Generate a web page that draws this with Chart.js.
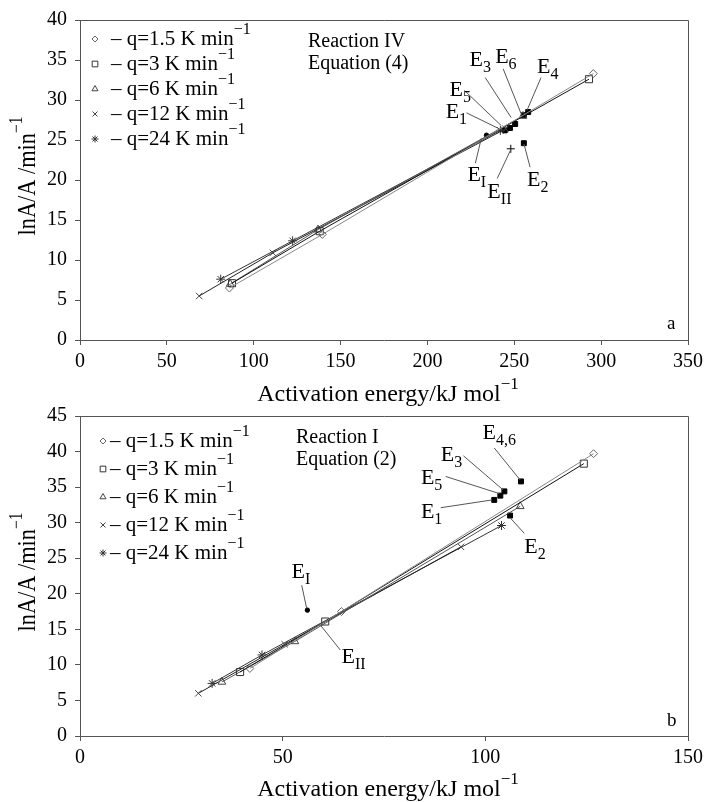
<!DOCTYPE html>
<html>
<head>
<meta charset="utf-8">
<script src="https://cdn.jsdelivr.net/npm/chart.js@4.4.1/dist/chart.umd.min.js"></script>
<style>
    html, body { margin: 0; padding: 0; background: #fff; }
    #wrap { position: relative; width: 708px; height: 802px; }
    canvas { position: absolute; left: 0; }
</style>
</head>
<body>
<div id="wrap">
    <canvas id="chartA" width="708" height="412" style="top:0"></canvas>
    <canvas id="chartB" width="708" height="407" style="top:395px"></canvas>
</div>
<script>
/* ================= DATA ================= */
const rates = ["1.5", "3", "6", "12", "24"];

// panel a - Reaction IV, Equation (4)
const a15x = [86.0, 139.5, 295.5], a15y = [6.5, 13.2, 33.3];
const a3x = [87.5, 138.0, 293.0], a3y = [7.1, 13.6, 32.6];
const a6x = [86.5, 137.0, 255.0], a6y = [7.0, 13.8, 28.0];
const a12x = [68.6, 111.0, 245.0], a12y = [5.5, 10.9, 26.4];
const a24x = [81.0, 122.4, 242.0], a24y = [7.6, 12.4, 26.2];

const aEnames = ["1", "2", "3", "4", "5", "6"];
const aEx = [244.5, 255.5, 250.5, 258.0, 247.5, 255.5];
const aEy = [26.2, 24.6, 27.0, 28.5, 26.5, 28.1];
const aEIx = [234.0], aEIy = [25.6];
const aEIIx = [248.0], aEIIy = [23.9];

// panel b - Reaction I, Equation (2)
const b15x = [41.9, 64.5, 126.7], b15y = [9.5, 17.5, 39.7];
const b3x = [39.5, 60.5, 124.3], b3y = [9.0, 16.1, 38.3];
const b6x = [35.0, 53.0, 108.6], b6y = [7.6, 13.3, 32.3];
const b12x = [29.2, 50.5, 94.0], b12y = [6.0, 12.9, 26.6];
const b24x = [32.6, 44.9, 104.0], b24y = [7.4, 11.4, 29.6];

const bEnames = ["1", "2", "3", "4,6", "5"];
const bEx = [102.2, 106.1, 104.7, 108.8, 103.7];
const bEy = [33.2, 31.0, 34.4, 35.8, 33.8];
const bEIx = [56.1], bEIy = [17.7];

const aXTicks = [0, 50, 100, 150, 200, 250, 300, 350];
const aYTicks = [0, 5, 10, 15, 20, 25, 30, 35, 40];
const bXTicks = [0, 50, 100, 150];
const bYTicks = [0, 5, 10, 15, 20, 25, 30, 35, 40, 45];

/* ================= STYLE ================= */
const FONT = '"Liberation Serif", "Times New Roman", serif';
Chart.defaults.font.family = FONT;
Chart.defaults.color = "#000";

const markers = [
    { style: "rectRot", r: 4, color: "#666", line: "#888" },
    { style: "rect", r: 5, color: "#333", line: "#111" },
    { style: "triangle", r: 4.5, color: "#444", line: "#555" },
    { style: "crossRot", r: 4.5, color: "#444", line: "#222" },
    { style: "star", r: 4.5, color: "#333", line: "#333" }
];

function pts(xs, ys) {
    return xs.map((x, i) => ({ x: x, y: ys[i] }));
}

function seriesSets(list) {
    return list.map((s, i) => ({
        label: "q=" + rates[i] + " K min-1",
        data: pts(s[0], s[1]),
        showLine: true,
        borderColor: markers[i].line,
        borderWidth: 1,
        pointStyle: markers[i].style,
        pointRadius: markers[i].r,
        pointBorderColor: markers[i].color,
        pointBackgroundColor: "rgba(255,255,255,0)",
        pointBorderWidth: 1
    }));
}

function eSet(xs, ys, style, r) {
    return {
        data: pts(xs, ys),
        showLine: false,
        pointStyle: style,
        pointRadius: r,
        pointBorderColor: "#000",
        pointBackgroundColor: "#000",
        pointBorderWidth: 1
    };
}

/* ================= TEXT HELPERS ================= */
function rich(ctx, x, y, parts, align) {
    let w = 0;
    parts.forEach(p => {
        ctx.font = p[1] + "px " + FONT;
        w += ctx.measureText(p[0]).width;
    });
    let cx = align === "center" ? x - w / 2 : x;
    ctx.textAlign = "left";
    ctx.textBaseline = "alphabetic";
    parts.forEach(p => {
        ctx.font = p[1] + "px " + FONT;
        ctx.fillText(p[0], cx, y + (p[2] || 0));
        cx += ctx.measureText(p[0]).width;
    });
}

const decor = {
    id: "decor",
    afterDraw(chart, args, o) {
        const ctx = chart.ctx;
        const ca = chart.chartArea;
        const sx = chart.scales.x, sy = chart.scales.y;
        ctx.save();

        // frame
        ctx.strokeStyle = "#555";
        ctx.lineWidth = 1;
        ctx.beginPath();
        ctx.moveTo(ca.left, ca.top + 0.5);
        ctx.lineTo(ca.right + 0.5, ca.top + 0.5);
        ctx.lineTo(ca.right + 0.5, ca.bottom);
        ctx.stroke();

        ctx.fillStyle = "#000";

        // legend
        o.legend.forEach((row, i) => {
            const y = o.legY + i * o.legStep;
            const m = markers[i];
            ctx.strokeStyle = m.color;
            ctx.fillStyle = "rgba(0,0,0,0)";
            Chart.helpers.drawPoint(ctx, { pointStyle: m.style, radius: m.r - 1, rotation: 0, borderWidth: 1 }, o.legMx, y - 6);
            ctx.fillStyle = "#000";
            rich(ctx, o.legTx, y, [["\u2013 q=" + rates[i] + " K min", 21], ["\u22121", 16, -11]]);
        });

        // reaction text
        ctx.font = "20px " + FONT;
        ctx.fillText(o.reaction[0], o.reactX, o.reactY);
        ctx.fillText(o.reaction[1], o.reactX, o.reactY + 22);

        // panel letter
        ctx.font = "19px " + FONT;
        ctx.fillText(o.letter, o.letterX, o.letterY);

        // E labels with leader lines
        ctx.strokeStyle = "#555";
        o.notes.forEach(n => {
            ctx.beginPath();
            ctx.moveTo(sx.getPixelForValue(n.from[0]), sy.getPixelForValue(n.from[1]));
            ctx.lineTo(sx.getPixelForValue(n.to[0]), sy.getPixelForValue(n.to[1]));
            ctx.stroke();
            rich(ctx, sx.getPixelForValue(n.at[0]), sy.getPixelForValue(n.at[1]),
                [["E", 22], [n.sub, 16, 6]]);
        });

        // axis titles
        rich(ctx, (ca.left + ca.right) / 2 + 4, o.xTitleY,
            [["Activation energy/kJ mol", 24], ["\u22121", 17, -12]], "center");
        ctx.translate(o.yTitleX, (ca.top + ca.bottom) / 2 - 4);
        ctx.rotate(-Math.PI / 2);
        ctx.scale(0.86, 1);
        rich(ctx, 0, 0, [["lnA/A /min", 26], ["\u22121", 18, -13]], "center");

        ctx.restore();
    }
};

function makeChart(id, sets, eSets, xTicks, yTicks, h, bottom, o) {
    new Chart(document.getElementById(id), {
        type: "scatter",
        data: { datasets: sets.concat(eSets) },
        plugins: [decor],
        options: {
            responsive: false,
            animation: false,
            layout: { padding: { left: 0, right: 16, top: o.top, bottom: 0 } },
            plugins: { legend: { display: false }, tooltip: { enabled: false }, decor: o },
            scales: {
                x: {
                    type: "linear",
                    min: xTicks[0], max: xTicks[xTicks.length - 1],
                    afterBuildTicks: s => { s.ticks = xTicks.map(v => ({ value: v })); },
                    afterFit: s => { s.height = h - bottom; },
                    grid: { drawOnChartArea: false, drawTicks: true, tickLength: 5, color: "#555" },
                    border: { color: "#555", width: 1 },
                    ticks: { font: { size: 20 }, padding: 5, maxRotation: 0 }
                },
                y: {
                    type: "linear",
                    min: yTicks[0], max: yTicks[yTicks.length - 1],
                    afterBuildTicks: s => { s.ticks = yTicks.map(v => ({ value: v })); },
                    afterFit: s => { s.width = 80; },
                    grid: { drawOnChartArea: false, drawTicks: true, tickLength: 5, color: "#555" },
                    border: { color: "#555", width: 1 },
                    ticks: { font: { size: 20 }, padding: 8 }
                }
            }
        }
    });
}

/* ================= PANEL A ================= */
makeChart("chartA",
    seriesSets([[a15x, a15y], [a3x, a3y], [a6x, a6y], [a12x, a12y], [a24x, a24y]]),
    [eSet(aEx, aEy, "rect", 3.5), eSet(aEIx, aEIy, "circle", 2.2), eSet(aEIIx, aEIIy, "cross", 4)],
    aXTicks, aYTicks, 412, 340,
    {
        top: 19,
        legend: rates, legY: 45, legStep: 25, legMx: 95, legTx: 111,
        reaction: ["Reaction IV", "Equation (4)"], reactX: 308, reactY: 47,
        letter: "a", letterX: 667, letterY: 329,
        xTitleY: 401, yTitleX: 35,
        notes: [
            { sub: "1", at: [210.5, 27.8], from: [222.5, 28.4], to: [241.3, 26.4] },
            { sub: "5", at: [212.7, 30.5], from: [221.3, 31.2], to: [242.5, 26.8] },
            { sub: "3", at: [224.2, 34.3], from: [233.3, 32.8], to: [248.2, 27.8] },
            { sub: "6", at: [239.0, 34.6], from: [243.6, 33.9], to: [253.9, 28.3] },
            { sub: "4", at: [263.1, 33.4], from: [265.4, 32.8], to: [257.3, 28.7] },
            { sub: "I", at: [223.0, 19.9], from: [227.6, 22.1], to: [231.0, 25.2] },
            { sub: "II", at: [234.5, 17.7], from: [240.2, 20.2], to: [248.2, 23.9] },
            { sub: "2", at: [257.3, 19.3], from: [259.1, 21.6], to: [255.6, 24.5] }
        ]
    });

/* ================= PANEL B ================= */
makeChart("chartB",
    seriesSets([[b15x, b15y], [b3x, b3y], [b6x, b6y], [b12x, b12y], [b24x, b24y]]),
    [eSet(bEx, bEy, "rect", 3.5), eSet(bEIx, bEIy, "circle", 2.2)],
    bXTicks, bYTicks, 407, 341,
    {
        top: 21,
        legend: rates, legY: 52, legStep: 28, legMx: 103, legTx: 110,
        reaction: ["Reaction I", "Equation (2)"], reactX: 296, reactY: 48,
        letter: "b", letterX: 667, letterY: 331,
        xTitleY: 401, yTitleX: 35,
        notes: [
            { sub: "1", at: [84.1, 30.7], from: [89.0, 32.1], to: [101.7, 33.2] },
            { sub: "5", at: [84.1, 35.5], from: [90.2, 36.5], to: [103.4, 34.1] },
            { sub: "3", at: [89.0, 38.7], from: [94.6, 39.4], to: [104.4, 34.6] },
            { sub: "4,6", at: [99.3, 41.8], from: [102.2, 40.5], to: [108.6, 36.0] },
            { sub: "2", at: [109.6, 25.8], from: [109.6, 28.5], to: [106.1, 30.7] },
            { sub: "I", at: [52.2, 22.2], from: [54.7, 21.2], to: [55.9, 18.0] },
            { sub: "II", at: [64.5, 10.2], from: [64.2, 12.1], to: [59.3, 15.6] }
        ]
    });
</script>
</body>
</html>
